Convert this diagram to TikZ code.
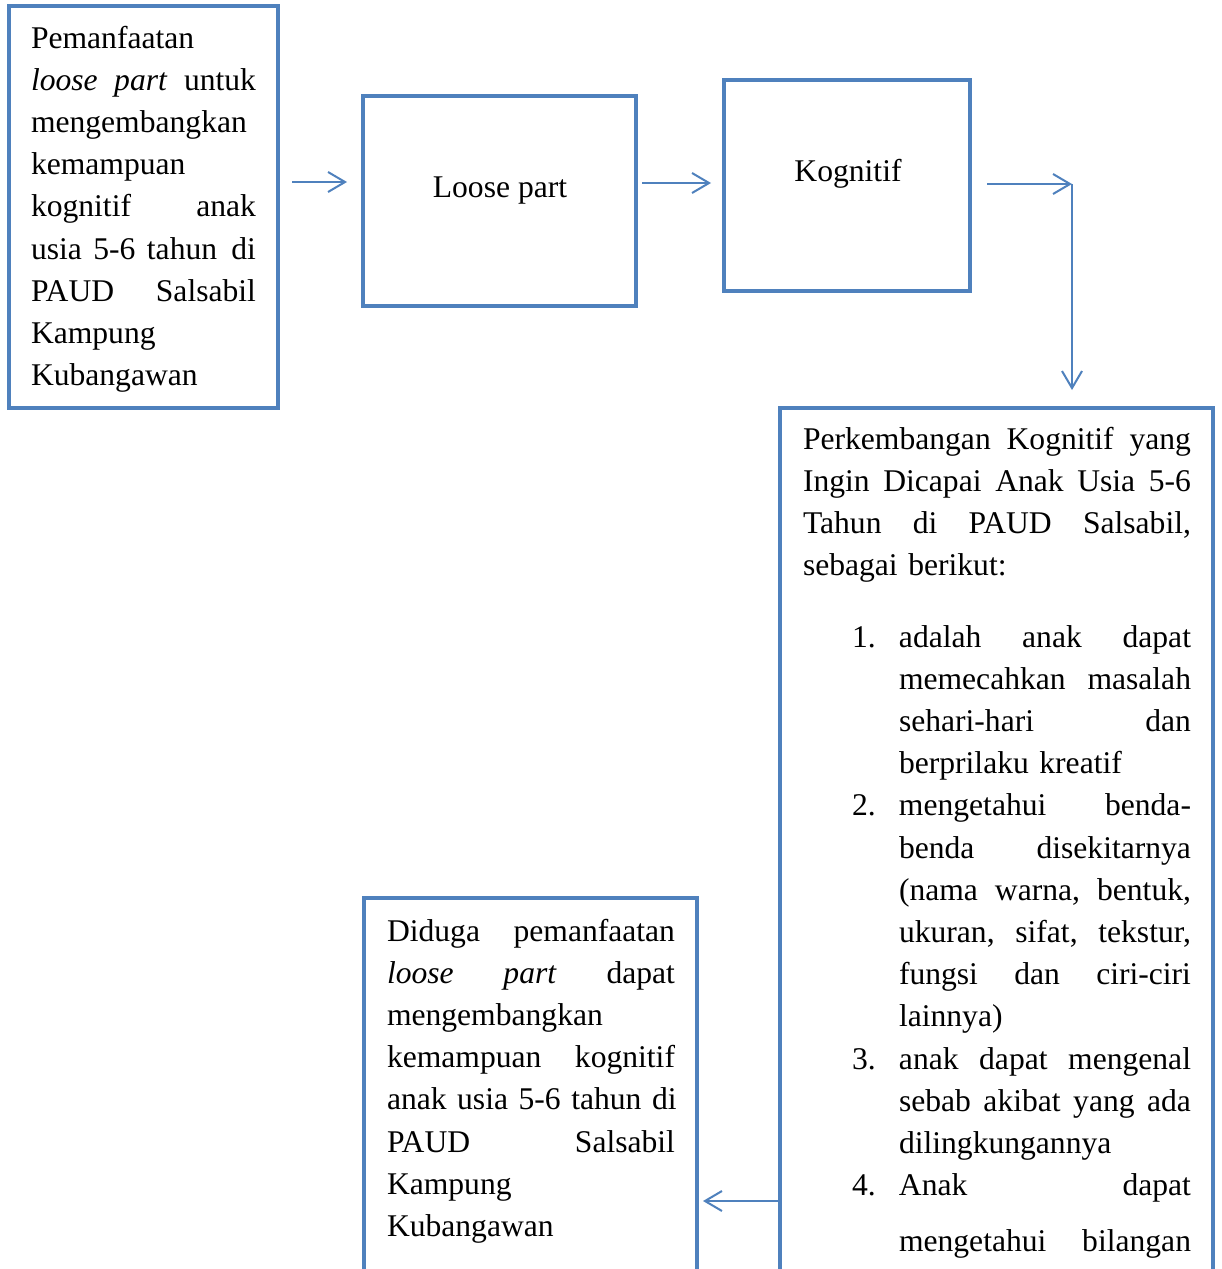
\documentclass[tikz,border=0pt]{standalone}
\usepackage{fontspec}
\setmainfont{Liberation Serif}
\usetikzlibrary{arrows.meta}
\definecolor{bl}{HTML}{4F81BD}
\newcommand\jus[2]{\leavevmode\hbox to #1{#2}}
\newcommand\num[1]{\leavevmode\hspace*{49pt}\makebox[47pt][l]{#1}}
\newcommand\cont{\leavevmode\hspace*{96pt}}
\newcommand\gp{\hspace{0pt plus 1fil}}
\begin{document}
\begin{tikzpicture}[x=1pt,y=-1pt,
  box/.style={draw=bl, line width=4.5pt, inner sep=0pt, outer sep=0pt},
  txt/.style={inner sep=0pt, outer sep=0pt, anchor=base west, align=left,
    font=\fontsize{31.6}{42.2}\selectfont},
  arr/.style={draw=bl, line width=2pt, -{Straight Barb[length=17pt,width=20pt]}}]
\useasboundingbox (0,0) rectangle (1221,1269);
\fill[white] (0,0) rectangle (1221,1269);
% boxes
\node[box, minimum width=269pt, minimum height=402pt] (b1) at (143.5,207) {};
\node[box, minimum width=273pt, minimum height=210pt] (b2) at (499.5,201) {};
\node[box, minimum width=246pt, minimum height=211pt] (b3) at (847,185.5) {};
\node[box, minimum width=433pt, minimum height=900pt] (b4) at (996.5,858) {};
\node[box, minimum width=333pt, minimum height=420pt] (b5) at (530.5,1108) {};
% texts
\node[txt, text width=225pt] (t1) at (31,48) {Pemanfaatan\\
\jus{225pt}{\textit{loose}\gp{} \textit{part}\gp{} untuk}\\
mengembangkan\\
kemampuan\\
\jus{225pt}{kognitif\gp{} anak}\\
\jus{225pt}{usia\hspace{0pt plus 0.5fil} 5-6\hspace{0pt plus 0.5fil} tahun\gp\gp{} di}\\
\jus{225pt}{PAUD\gp{} Salsabil}\\
Kampung\\
Kubangawan};
\node[txt, anchor=base] (t2) at (500,197) {Loose part};
\node[txt, anchor=base] (t3) at (848,181) {Kognitif};
\node[txt, text width=388pt] (t4) at (803,449) {\jus{388pt}{Perkembangan\gp{} Kognitif\gp{} yang}\\
\jus{388pt}{Ingin\gp{} Dicapai\gp{} Anak\gp{} Usia\gp{} 5-6}\\
\jus{388pt}{Tahun\gp{} di\gp{} PAUD\gp{} Salsabil,}\\
sebagai berikut:\\[29.2pt]
\num{1.}\jus{292pt}{adalah\gp{} anak\gp{} dapat}\\
\cont\jus{292pt}{memecahkan\gp{} masalah}\\
\cont\jus{292pt}{sehari-hari\gp{} dan}\\
\cont berprilaku kreatif\\
\num{2.}\jus{292pt}{mengetahui\gp{} benda-}\\
\cont\jus{292pt}{benda\gp{} disekitarnya}\\
\cont\jus{292pt}{(nama\gp{} warna,\gp{} bentuk,}\\
\cont\jus{292pt}{ukuran,\gp{} sifat,\gp{} tekstur,}\\
\cont\jus{292pt}{fungsi\gp{} dan\gp{} ciri-ciri}\\
\cont lainnya)\\
\num{3.}\jus{292pt}{anak\gp{} dapat\gp{} mengenal}\\
\cont\jus{292pt}{sebab\gp{} akibat\gp{} yang\gp{} ada}\\
\cont dilingkungannya\\
\num{4.}\jus{292pt}{Anak\gp{} dapat}\\[13.8pt]
\cont\jus{292pt}{mengetahui\gp{} bilangan}};
\node[txt, text width=288pt] (t5) at (387,941) {\jus{288pt}{Diduga\gp{} pemanfaatan}\\
\jus{288pt}{\textit{loose}\gp{} \textit{part}\gp{} dapat}\\
mengembangkan\\
\jus{288pt}{kemampuan\gp{} kognitif}\\
\jus{288pt}{anak\gp{} usia\gp{} 5-6\gp{} tahun\gp{} di}\\
\jus{288pt}{PAUD\gp{} Salsabil}\\
Kampung\\
Kubangawan};
% connectors
\coordinate (a1s) at (292,182);
\coordinate (a1e) at (347,182);
\coordinate (a2s) at (642,183);
\coordinate (a2e) at (711,183);
\coordinate (a3s) at (987,184);
\coordinate (a3c) at (1072,184);
\coordinate (a3e) at (1072,390);
\coordinate (a4e) at (703,1201);
\draw[arr] (a1s) -- (a1e);
\draw[arr] (a2s) -- (a2e);
\draw[arr] (a3s) -- (a3c);
\draw[arr] (a3c) -- (a3e);
\draw[arr] (b4.west |- a4e) -- (a4e);
\end{tikzpicture}
\end{document}
